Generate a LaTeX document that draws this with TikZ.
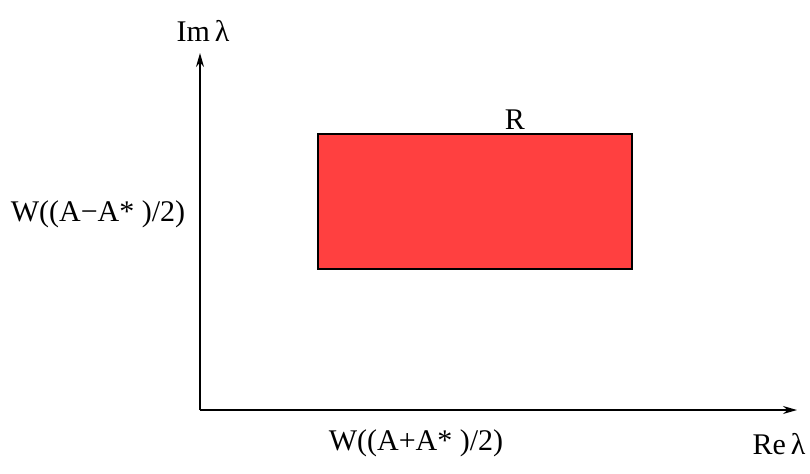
\documentclass[tikz,border=0pt]{standalone}
\usepackage{fontspec}
\setmainfont{Liberation Serif}
\usetikzlibrary{arrows.meta}
\definecolor{regionred}{RGB}{255,64,64}
\begin{document}
\begin{tikzpicture}[x=0.5pt,y=-0.5pt,
  lbl/.style={inner sep=0pt, font=\fontsize{15}{18}\selectfont},
  axis/.style={line width=0.75pt, -{Stealth[length=7pt,width=4pt]}},
  regionbox/.style={draw=black, line width=0.6pt, fill=regionred, inner sep=0pt,
    minimum width=157pt, minimum height=67.5pt}]
\useasboundingbox (0,0) rectangle (810,473);
\coordinate (o) at (200,410);
\coordinate (ytip) at (200,53);
\coordinate (xtip) at (797,410);
\draw[axis] (o) -- (ytip);
\draw[axis] (o) -- (xtip);
\node[regionbox] (R) at (475,201.5) {};
\node[lbl] (Rl) at (515,120) {R};
\node[lbl] (im) at (203,31) {Im\,λ};
\node[lbl] (re) at (779,444) {Re\,λ};
\node[lbl] (wy) at (98,214) {W((A−A* )/2)};
\node[lbl] (wx) at (416,443) {W((A+A* )/2)};
\end{tikzpicture}
\end{document}
